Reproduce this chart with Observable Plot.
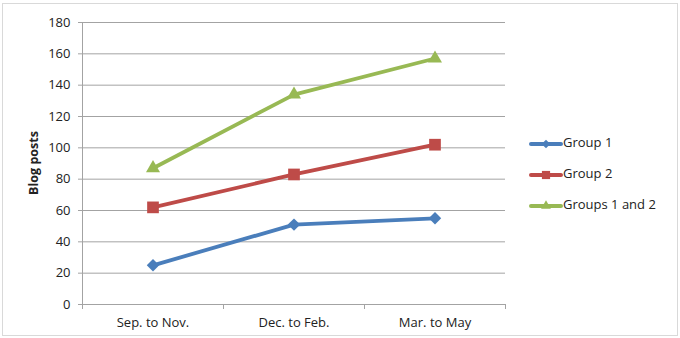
<!DOCTYPE html>
<html><head><meta charset="utf-8">
<script src="https://cdn.jsdelivr.net/npm/d3@7"></script>
<script src="https://cdn.jsdelivr.net/npm/@observablehq/plot@0.6"></script>
<style>
body{margin:0;background:#fff;font-family:"Open Sans",sans-serif}
#wrap{position:relative;width:680px;height:338px}
#frame{position:absolute;left:2px;top:3px;width:674px;height:331px;border:1px solid #d9d9d9;pointer-events:none}
#wrap svg{position:absolute;left:0;top:0}
</style></head><body><div id="wrap"><div id="frame"></div></div>
<script>
const categories = ["Sep. to Nov.", "Dec. to Feb.", "Mar. to May"];
const seriesNames = ["Group 1", "Group 2", "Groups 1 and 2"];
const group1 = [25, 51, 55];
const group2 = [62, 83, 102];
const groups12 = [87, 134, 157];
const yTicks = [0, 20, 40, 60, 80, 100, 120, 140, 160, 180];
const yLabel = "Blog posts";

const seriesValues = [group1, group2, groups12];
const colors = ["#4a7ebb", "#be4b48", "#98b954"];
const symbols = ["diamond2", "square", "triangle"];
const markerR = {"Group 1": 5.6, "Group 2": 6.6, "Groups 1 and 2": 5.2};

const rows = [];
seriesNames.forEach((s, k) => seriesValues[k].forEach((v, i) => rows.push({series: s, i, value: v})));

const xDomain = [-0.5, categories.length - 0.5];
const boundaries = d3.range(xDomain[0], xDomain[1] + 0.01, 1);
const centers = d3.range(categories.length);

const chart = Plot.plot({
  width: 680, height: 338,
  marginLeft: 82, marginRight: 175, marginTop: 22, marginBottom: 34,
  style: {fontFamily: "'Open Sans', sans-serif", fontSize: "13px", color: "#222", background: "transparent"},
  x: {type: "linear", domain: xDomain},
  y: {domain: [0, 180]},
  color: {domain: seriesNames, range: colors},
  symbol: {domain: seriesNames, range: symbols},
  r: {type: "identity"},
  marks: [
    Plot.gridY(yTicks, {stroke: "#a3a3a3", strokeOpacity: 1}),
    Plot.axisY(yTicks, {tickSize: 4, tickPadding: 8, stroke: "#a3a3a3", fill: "#222", label: null, fontSize: 13}),
    Plot.ruleX([xDomain[0]], {stroke: "#a3a3a3"}),
    Plot.ruleY([0], {stroke: "#a3a3a3"}),
    Plot.axisX(boundaries, {tickSize: 5, stroke: "#a3a3a3", tickFormat: () => "", label: null}),
    Plot.axisX(centers, {tickSize: 0, tickPadding: 13, tickFormat: i => categories[i], fill: "#222", label: null, fontSize: 13}),
    Plot.line(rows, {x: "i", y: "value", z: "series", stroke: "series", strokeWidth: 3.8}),
    Plot.dot(rows, {x: "i", y: "value", symbol: "series", fill: "series", r: d => markerR[d.series], stroke: "none"})
  ]
});
document.getElementById("wrap").appendChild(chart);

const svg = d3.select(chart);
svg.append("text")
  .attr("transform", "translate(35,163) rotate(-90)")
  .attr("text-anchor", "middle").attr("dominant-baseline", "middle")
  .attr("font-weight", "bold").attr("font-size", 12.5).attr("fill", "#222")
  .text(yLabel);

const lg = svg.append("g").attr("text-anchor", "start");
seriesNames.forEach((s, k) => {
  const y = 144 + 31 * k;
  lg.append("line").attr("x1", 531).attr("x2", 561).attr("y1", y).attr("y2", y)
    .attr("stroke", colors[k]).attr("stroke-width", 4).attr("stroke-linecap", "round");
  const sym = {diamond2: d3.symbolDiamond2, square: d3.symbolSquare, triangle: d3.symbolTriangle}[symbols[k]];
  lg.append("path").attr("d", d3.symbol(sym, Math.PI * (markerR[s] * 0.7) ** 2)())
    .attr("transform", `translate(546,${y})`).attr("fill", colors[k]);
  lg.append("text").attr("x", 563).attr("y", y).attr("dominant-baseline", "middle")
    .attr("text-anchor", "start")
    .attr("font-size", 13).attr("fill", "#222").text(s);
});
</script>
</body></html>
